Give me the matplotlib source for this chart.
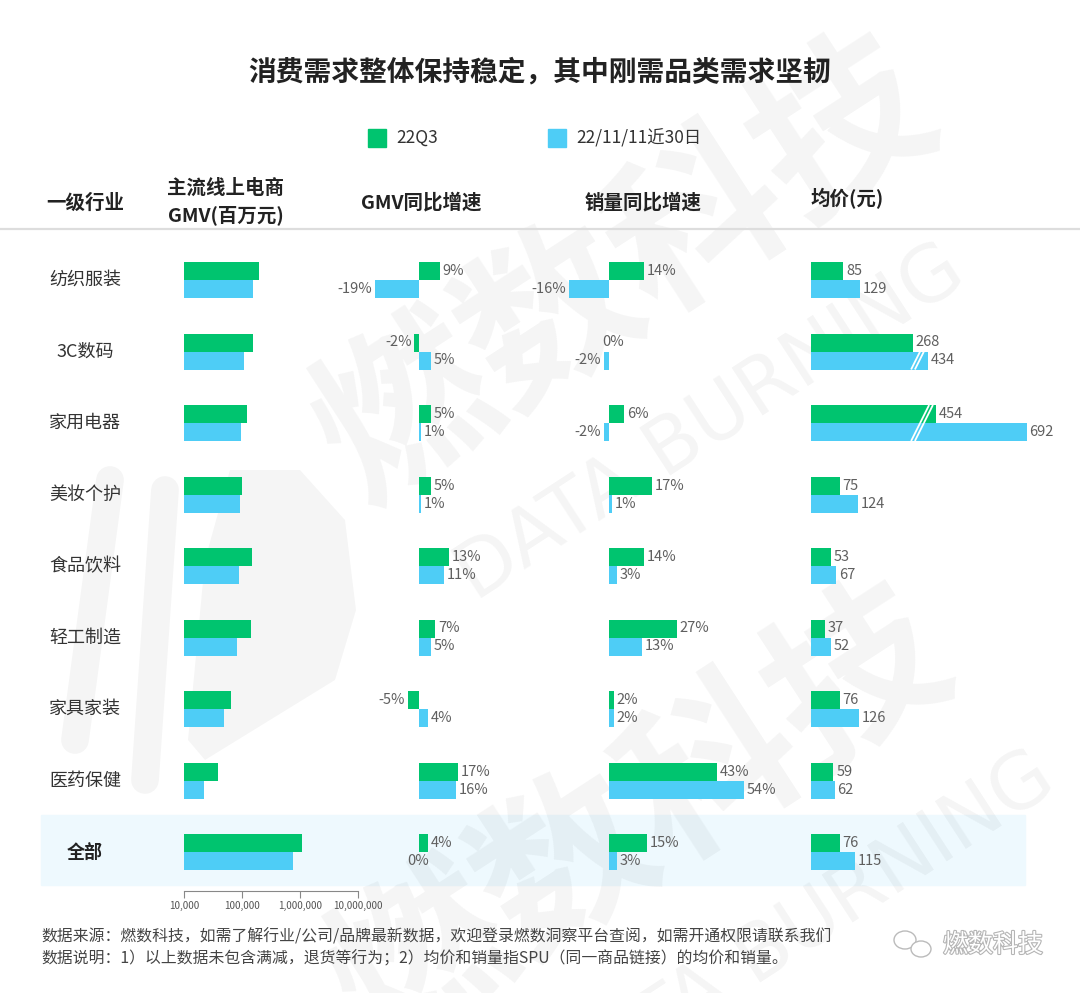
import numpy as np
import matplotlib.pyplot as plt
import matplotlib.patheffects as pe
import matplotlib.transforms as mtransforms
from matplotlib.patches import Rectangle, Ellipse, Polygon
from matplotlib.ticker import FixedLocator, FuncFormatter, NullLocator

plt.rcParams['font.family'] = ['Noto Sans CJK SC', 'DejaVu Sans']

# data
categories = ['纺织服装', '3C数码', '家用电器', '美妆个护', '食品饮料', '轻工制造', '家具家装', '医药保健', '全部']
series = ['22Q3', '22/11/11近30日']

gmv_q3 = [196000, 155000, 122000, 100000, 149000, 141000, 64500, 38500, 1080000]
gmv_d11 = [155000, 108000, 96000, 92000, 89000, 82000, 49000, 22000, 768000]
gmv_yoy_q3 = [9, -2, 5, 5, 13, 7, -5, 17, 4]
gmv_yoy_d11 = [-19, 5, 1, 1, 11, 5, 4, 16, 0]
vol_yoy_q3 = [14, 0, 6, 17, 14, 27, 2, 43, 15]
vol_yoy_d11 = [-16, -2, -2, 1, 3, 13, 2, 54, 3]
price_q3 = [85, 268, 454, 75, 53, 37, 76, 59, 76]
price_d11 = [129, 434, 692, 124, 67, 52, 126, 62, 115]
gmv_ticks = [1e4, 1e5, 1e6, 1e7]

headers = ['一级行业', '主流线上电商\nGMV(百万元)', 'GMV同比增速', '销量同比增速', '均价(元)']
title = '消费需求整体保持稳定，其中刚需品类需求坚韧'
notes = ['数据来源：燃数科技，如需了解行业/公司/品牌最新数据，欢迎登录燃数洞察平台查阅，如需开通权限请联系我们',
         '数据说明：1）以上数据未包含满减，退货等行为；2）均价和销量指SPU（同一商品链接）的均价和销量。']

GREEN = '#00c46f'
BLUE = '#4ecdf6'
LABEL = '#5f5f5f'
BREAK = 300   # price bars above this are drawn cut
CUT = 125

W, H = 1080, 993
fig = plt.figure(figsize=(W / 100, H / 100), dpi=100)

bg = fig.add_axes([0, 0, 1, 1])
bg.set_xlim(0, W)
bg.set_ylim(H, 0)
bg.axis('off')

# highlighted total row
bg.add_patch(Rectangle((41, 815), 984, 70, color='#eef9fe', zorder=0))

# watermark
wm = dict(color='black', alpha=0.045, ha='center', va='center', rotation=33, zorder=1)
bg.text(625, 272, '燃数科技', fontsize=125, fontweight='bold', **wm)
bg.text(640, 820, '燃数科技', fontsize=125, fontweight='bold', **wm)
bg.text(710, 423, 'DATA BURNING', fontsize=56, family='DejaVu Sans', **wm)
bg.text(800, 930, 'DATA BURNING', fontsize=56, family='DejaVu Sans', **wm)
logo = dict(color='black', alpha=0.04, lw=20, solid_capstyle='round', zorder=1)
bg.plot([110, 75], [480, 740], **logo)
bg.plot([165, 145], [490, 780], **logo)
bg.add_patch(Polygon([(230, 470), (300, 470), (345, 520), (356, 610), (335, 680),
                      (205, 760), (188, 740), (205, 560)], closed=True,
                     color='black', alpha=0.04, lw=0, zorder=1))

# title, legend, headers
bg.text(540, 72, title, fontsize=20, fontweight='bold', ha='center', va='center', color='#222')
bg.add_patch(Rectangle((368, 129), 18, 18, color=GREEN))
bg.text(396, 138, series[0], fontsize=12.5, va='center', color='#333')
bg.add_patch(Rectangle((548, 129), 18, 18, color=BLUE))
bg.text(576, 138, series[1], fontsize=12.5, va='center', color='#333')

hdr = dict(fontsize=14, fontweight='bold', ha='center', va='center', color='#222')
bg.text(85, 203, headers[0], **hdr)
bg.text(226, 202, headers[1], linespacing=1.45, **hdr)
bg.text(421, 203, headers[2], **hdr)
bg.text(643, 203, headers[3], **hdr)
bg.text(847, 199, headers[4], **hdr)
bg.plot([0, W], [229, 229], color='#dddddd', lw=1.6)

# footer
bg.text(41, 937, notes[0], fontsize=11.4, va='center', color='#444')
bg.text(41, 959, notes[1], fontsize=11.4, va='center', color='#444')
bg.add_patch(Ellipse((905, 940), 22, 18, fill=False, ec='#bbbbbb', lw=1))
bg.add_patch(Ellipse((921, 949), 20, 16, fc='white', ec='#bbbbbb', lw=1))
bg.text(993, 945, '燃数科技', fontsize=18, ha='center', va='center', color='white',
        path_effects=[pe.withStroke(linewidth=1.6, foreground='#b5b5b5')])

# bar panels
TOP, BOT = 244, 891
ROW = 71.5
y0 = 280
ylim = ((BOT - y0) / ROW, (TOP - y0) / ROW)
h = 18 / ROW
ys = np.arange(len(categories))


def make_ax(l, r, xlim, log=False):
    ax = fig.add_axes([l / W, 1 - BOT / H, (r - l) / W, (BOT - TOP) / H])
    ax.set_facecolor('none')
    if log:
        ax.set_xscale('log')
    ax.set_xlim(*xlim)
    ax.set_ylim(*ylim)
    for s in ax.spines.values():
        s.set_visible(False)
    ax.set_yticks([])
    ax.set_xticks([])
    return ax


def labels(ax, yy, vals, disp, fmt, zero_dx=-1):
    for y, v, d in zip(yy, vals, disp):
        if v > 0:
            ha, dx = 'left', 2
        elif v < 0:
            ha, dx = 'right', -2
        else:
            ha, dx = 'center', zero_dx
        ax.annotate(fmt.format(v), (d, y), xytext=(dx, 0), textcoords='offset points',
                    ha=ha, va='center', fontsize=10.5, color=LABEL)


# GMV (log scale)
ax1 = make_ax(184, 358, (1e4, 1e7), log=True)
ax1.barh(ys - h / 2, np.array(gmv_q3) - 1e4, left=1e4, height=h, color=GREEN)
ax1.barh(ys + h / 2, np.array(gmv_d11) - 1e4, left=1e4, height=h, color=BLUE)
ax1.spines['bottom'].set_visible(True)
ax1.spines['bottom'].set_color('#888888')
ax1.xaxis.set_major_locator(FixedLocator(gmv_ticks))
ax1.xaxis.set_minor_locator(NullLocator())
ax1.xaxis.set_major_formatter(FuncFormatter(lambda v, p: '{:,.0f}'.format(v)))
ax1.tick_params(axis='x', length=5, color='#888888', labelsize=7.2, labelcolor='#555555', pad=2)

# category names
cat_tr = mtransforms.blended_transform_factory(bg.transData, ax1.transData)
for y, c in zip(ys, categories):
    bold = c == '全部'
    ax1.text(85, y, c, transform=cat_tr, ha='center', va='center', fontsize=13,
             fontweight='bold' if bold else 'normal', color='#222' if bold else '#333')

# GMV yoy
ax2 = make_ax(330, 520, (-38.7, 43.9))
ax2.barh(ys - h / 2, gmv_yoy_q3, height=h, color=GREEN)
ax2.barh(ys + h / 2, gmv_yoy_d11, height=h, color=BLUE)
labels(ax2, ys - h / 2, gmv_yoy_q3, gmv_yoy_q3, '{}%')
labels(ax2, ys + h / 2, gmv_yoy_d11, gmv_yoy_d11, '{}%')

# volume yoy
ax3 = make_ax(540, 800, (-27.6, 76.4))
ax3.barh(ys - h / 2, vol_yoy_q3, height=h, color=GREEN)
ax3.barh(ys + h / 2, vol_yoy_d11, height=h, color=BLUE)
labels(ax3, ys - h / 2, vol_yoy_q3, vol_yoy_q3, '{}%', zero_dx=3)
labels(ax3, ys + h / 2, vol_yoy_d11, vol_yoy_d11, '{}%', zero_dx=3)

# average price with broken long bars
ax4 = make_ax(811, 1060, (0, 655))
pq = [v - CUT if v > BREAK else v for v in price_q3]
pd_ = [v - CUT if v > BREAK else v for v in price_d11]
ax4.barh(ys - h / 2, pq, height=h, color=GREEN)
ax4.barh(ys + h / 2, pd_, height=h, color=BLUE)
labels(ax4, ys - h / 2, price_q3, pq, '{}')
labels(ax4, ys + h / 2, price_d11, pd_, '{}')

px_x = (1060 - 811) / 655
slope = 0.5 * ROW / px_x
xb = 292
for i in ys:
    for yc, v in ((i - h / 2, price_q3[i]), (i + h / 2, price_d11[i])):
        if v > BREAK:
            yt, yb = yc - h / 2, yc + h / 2
            for off in (-5, 5):
                ax4.plot([xb + off - (yt - i) * slope, xb + off - (yb - i) * slope], [yt, yb],
                         color='white', lw=1.3, solid_capstyle='butt')

fig.savefig('out.png', dpi=100)
